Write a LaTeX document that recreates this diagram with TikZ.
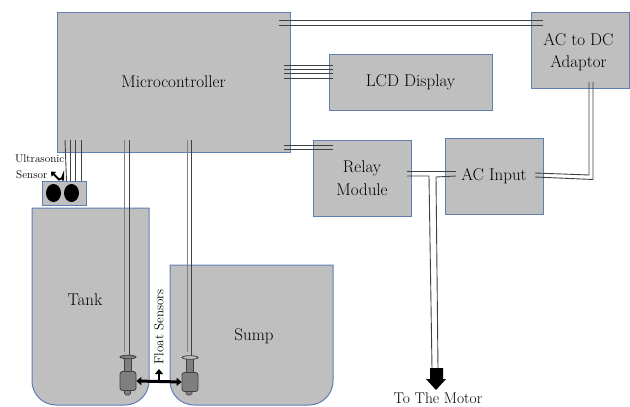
\documentclass[tikz,border=0pt]{standalone}
\usetikzlibrary{calc,arrows.meta,shapes.geometric}
\definecolor{boxfill}{HTML}{BFBFBF}
\definecolor{boxline}{HTML}{5F7FB3}
\definecolor{wirecol}{HTML}{404040}
\definecolor{sensfill}{HTML}{7F7F7F}
\newcommand{\lbl}{\fontsize{17}{22.5}\selectfont}
\tikzset{
  unit/.style={draw=boxline,fill=boxfill,line width=1pt,inner sep=0pt,align=center,font=\lbl},
  vessel/.style={draw=boxline,fill=boxfill,line width=1pt,rounded corners=0pt},
  txt/.style={inner sep=0pt,align=center,font=\lbl},
  wire/.style={draw=wirecol,line width=0.9pt},
  sensorbody/.style={draw=wirecol,fill=sensfill,line width=0.8pt,rounded corners=2.5pt,minimum width=16pt,minimum height=19pt,inner sep=0pt},
  sensorneck/.style={draw=wirecol,fill=sensfill,line width=0.6pt,minimum width=7pt,minimum height=14pt,inner sep=0pt},
  sensortip/.style={draw=wirecol,fill=sensfill,line width=0.6pt,rounded corners=1.5pt,minimum width=6pt,minimum height=6pt,inner sep=0pt},
  eye/.style={fill=black,ellipse,minimum width=15pt,minimum height=18pt,inner sep=0pt},
}
\begin{document}
\begin{tikzpicture}[x=1pt,y=-1pt]
\useasboundingbox (0,0) rectangle (630,407);
% vessels
\draw[vessel] (32,208) -- (149,208) -- (149,381) arc[start angle=0,end angle=90,radius=24] -- (56,405) arc[start angle=90,end angle=180,radius=24] -- cycle;
\draw[vessel] (170,265) -- (333,265) -- (333,381) arc[start angle=0,end angle=90,radius=24] -- (194,405) arc[start angle=90,end angle=180,radius=24] -- cycle;
\node[txt] (tanklabel) at (85,300) {Tank};
\node[txt] (sumplabel) at (254,336) {Sump};
% units
\node[unit,minimum width=233pt,minimum height=140pt] (mc) at (173.5,82) {Microcontroller};
\node[unit,minimum width=163pt,minimum height=56pt] (lcd) at (410.5,82.5) {LCD Display};
\node[unit,minimum width=98pt,minimum height=76pt] (adaptor) at (580,50) {};
\node[txt] (adaptorlabel) at (578.5,52) {AC to DC\\Adaptor};
\node[unit,minimum width=98pt,minimum height=76pt] (relay) at (362,178) {Relay\\Module};
\node[unit,minimum width=98pt,minimum height=76pt] (acin) at (494,176) {AC Input};
\node[unit,minimum width=44pt,minimum height=24pt] (us) at (64,193) {};
\node[eye] (eyeL) at (53.5,193) {};
\node[eye] (eyeR) at (71.5,193) {};
\node[txt,anchor=west] (uslabelA) at (15,159) {\fontsize{11.2}{12}\selectfont Ultrasonic};
\node[txt,anchor=west] (uslabelB) at (16,175) {\fontsize{11.2}{12}\selectfont Sensor};
% wire end points
\coordinate (a1) at (279,20.5); \coordinate (a2) at (543,20.5);
\coordinate (b1) at (279,25);   \coordinate (b2) at (543,25);
\draw[wire] (a1) -- (a2);
\draw[wire] (b1) -- (b2);
\foreach \y in {65,69,73,78}{\draw[wire] (284,\y) -- (333,\y);}
\foreach \y in {145,149}{\draw[wire] (284,\y) -- (333,\y);}
% relay / AC input / motor
\draw[wire] (407,171.5) -- (456,171.5);
\draw[wire] (407,176) -- (429,176) -- (432,368);
\draw[wire] (456,176) -- (436,177) -- (438,368);
% AC input to adaptor
\draw[wire] (535,173) -- (589,175) -- (589,82);
\draw[wire] (535,177) -- (593,179.5) -- (593,82);
% motor arrow
\fill[black] (430,368) -- (443,368) -- (443,379) -- (446,379) -- (436,390) -- (426,379) -- (430,379) -- cycle;
\node[txt] (motor) at (438,398.5) {\fontsize{15.5}{18}\selectfont To The Motor};
% ultrasonic wires
\draw[wire] (65,140) -- (66.5,181);
\draw[wire] (70.5,140) -- (70.5,181);
\draw[wire] (75,140) -- (75,181);
\draw[wire] (81,140) -- (81,181);
% float wires
\draw[wire,draw=gray] (124,140) -- (124,352);
\draw[wire] (129,140) -- (129,356);
\draw[wire,draw=gray] (187.5,140) -- (187.5,352);
\draw[wire] (191.7,140) -- (191.7,356);
% float sensors
\node[sensortip] (tipL) at (127.5,392) {};
\node[sensortip] (tipR) at (189,392) {};
\node[sensorneck] (neckL) at (128,364) {};
\node[sensorneck] (neckR) at (190,365) {};
\node[sensorbody] (fsL) at (128,381) {};
\node[sensorbody] (fsR) at (190,382) {};
\draw[draw=wirecol,fill=sensfill,line width=0.8pt] (128,357) ellipse[x radius=8,y radius=1.8];
\draw[draw=wirecol,fill=boxfill,line width=0.8pt] (190,357.5) ellipse[x radius=8,y radius=1.8];
\draw[line width=3pt,{Triangle[length=5pt,width=8pt]}-{Triangle[length=5pt,width=8pt]}] (fsL.east) -- (fsR.west);
\coordinate (fjoin) at (159,381);
\coordinate (fup) at (159,369);
\draw[line width=2.6pt,-{Triangle[length=5pt,width=8pt]}] (fjoin) -- (fup);
\node[txt,rotate=90] (floatlabel) at (159,327) {\fontsize{13}{14}\selectfont Float Sensors};
% ultrasonic arrow
\coordinate (ua) at (63,180.5);
\coordinate (ub) at (51,171.5);
\draw[line width=2pt,-{Triangle[length=4pt,width=6.5pt]}] (ua) -- (63,175.5) arc[start angle=0,end angle=90,radius=4] -- (ub);
\end{tikzpicture}
\end{document}
